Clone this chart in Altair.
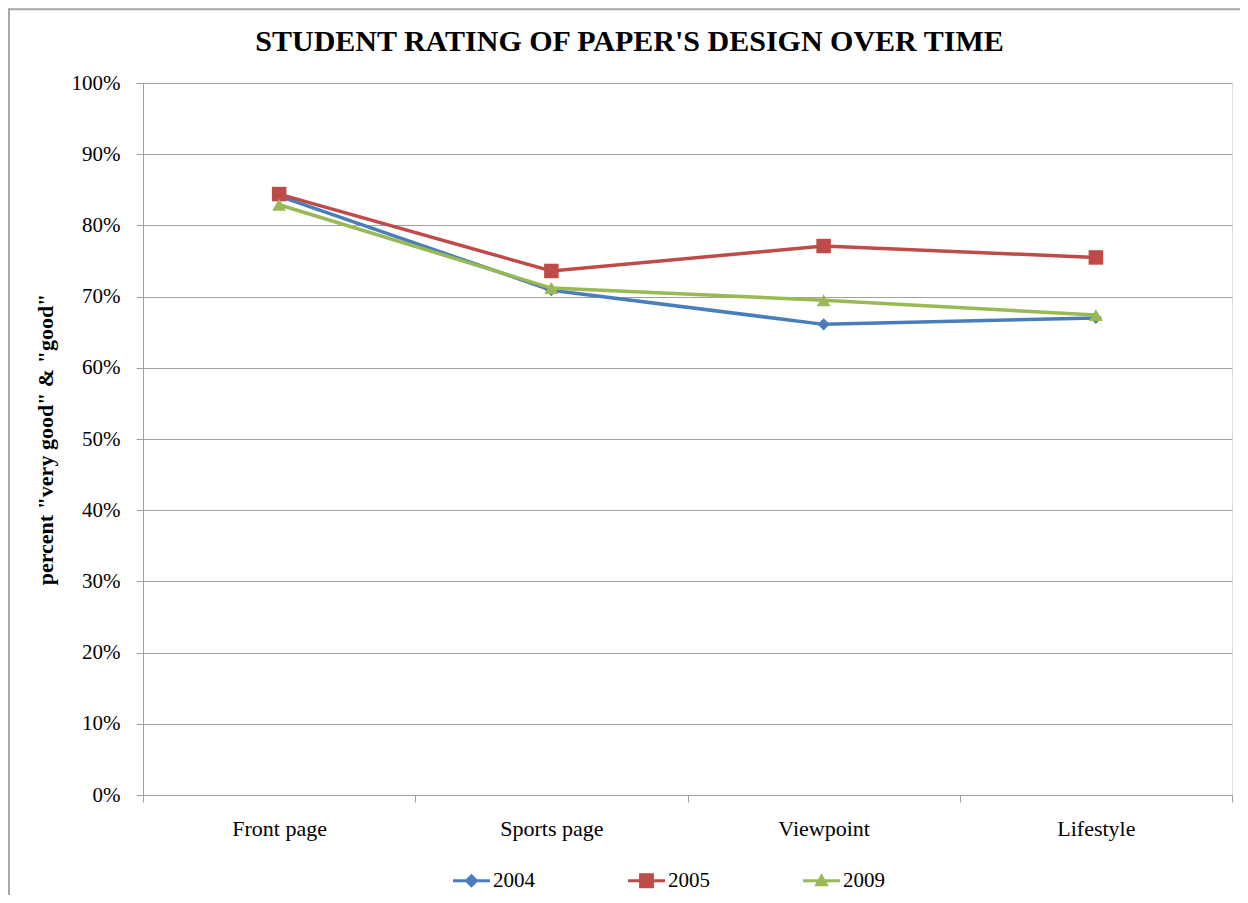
import altair as alt
import pandas as pd

categories = ["Front page", "Sports page", "Viewpoint", "Lifestyle"]
years = ["2004", "2005", "2009"]
v2004 = [0.841, 0.709, 0.661, 0.670]
v2005 = [0.844, 0.736, 0.771, 0.755]
v2009 = [0.829, 0.712, 0.695, 0.674]
y_ticks = [0.0, 0.1, 0.2, 0.3, 0.4, 0.5, 0.6, 0.7, 0.8, 0.9, 1.0]

colors = ["#4a7ebb", "#be4b48", "#98b954"]
markers = ["diamond", "square", "triangle-up"]
marker_sizes = [150, 210, 190]
legend_paths = [
    "M-1,-0.08L-0.30,-0.08L0,-0.38L0.30,-0.08L1,-0.08L1,0.08L0.30,0.08L0,0.38L-0.30,0.08L-1,0.08Z",
    "M-1,-0.08L-0.4,-0.08L-0.4,-0.4L0.4,-0.4L0.4,-0.08L1,-0.08L1,0.08L0.4,0.08L0.4,0.4L-0.4,0.4L-0.4,0.08L-1,0.08Z",
    "M-1,-0.08L-0.183,-0.08L0,-0.4L0.183,-0.08L1,-0.08L1,0.08L0.274,0.08L0.4,0.3L-0.4,0.3L-0.274,0.08L-1,0.08Z",
]

rows = []
for yr, vals in zip(years, [v2004, v2005, v2009]):
    for c, v in zip(categories, vals):
        rows.append({"category": c, "year": yr, "value": v})
df = pd.DataFrame(rows)

W, H = 1089, 712
SERIF = "Liberation Serif"
GRID = "#a0a0a0"

x_enc = alt.X(
    "category:N",
    sort=categories,
    scale=alt.Scale(paddingInner=0, paddingOuter=0),
    axis=alt.Axis(
        title=None, labelAngle=0, labelFont=SERIF, labelFontSize=22, labelColor="black",
        labelPadding=16, tickSize=7, tickColor=GRID, tickBand="extent",
        domainColor=GRID, domainWidth=1, grid=False,
    ),
)
y_enc = alt.Y(
    "value:Q",
    scale=alt.Scale(domain=[0, 1], nice=False, zero=True),
    axis=alt.Axis(
        values=y_ticks, format=".0%", labelFont=SERIF, labelFontSize=21, labelColor="black",
        labelPadding=16, tickSize=7, tickColor=GRID, domainColor=GRID,
        gridColor=GRID, gridWidth=1,
        title='percent "very good" & "good"', titleFont=SERIF, titleFontSize=22,
        titleFontWeight="bold", titleColor="black", titleAngle=270,
        titleX=-91, titleY=356, titleAlign="center", titleBaseline="alphabetic",
    ),
)

base = alt.Chart(df)
layers = []
for yr, col, mk, sz in zip(years, colors, markers, marker_sizes):
    sub = base.transform_filter(alt.datum.year == yr)
    layers.append(sub.mark_line(strokeWidth=3.5, color=col).encode(x=x_enc, y=y_enc))
    layers.append(sub.mark_point(filled=True, opacity=1, shape=mk, size=sz, color=col).encode(x=x_enc, y=y_enc))

legend = alt.Legend(
    orient="none", legendX=310, legendY=779, direction="horizontal", title=None,
    labelFont=SERIF, labelFontSize=21, labelColor="black", labelOffset=3,
    symbolSize=1369, symbolStrokeWidth=0, columnPadding=93, padding=0,
)
legend_layer = base.transform_filter("false").mark_point(filled=True, opacity=1).encode(
    x=x_enc, y=y_enc,
    color=alt.Color("year:N", scale=alt.Scale(domain=years, range=colors), legend=legend),
    shape=alt.Shape("year:N", scale=alt.Scale(domain=years, range=legend_paths), legend=legend),
)

frame = alt.Chart(alt.Data(values=[{"a": 1}])).mark_rect(
    fill="transparent", stroke="#a8a8a8", strokeWidth=2
).encode(
    x=alt.value(-134), x2=alt.value(1300), y=alt.value(-73.7), y2=alt.value(1000)
)

chart = alt.layer(frame, *layers, legend_layer).properties(
    width=W, height=H,
    title=alt.TitleParams(
        "STUDENT RATING OF PAPER'S DESIGN OVER TIME", font=SERIF, fontSize=30,
        fontWeight="bold", color="black", anchor="middle", dx=-58, offset=-73,
        baseline="alphabetic",
    ),
    autosize=alt.AutoSizeParams(type="none"),
    padding={"left": 135, "top": 75, "right": 8, "bottom": 100},
).configure_view(stroke="transparent").configure(background="white")

chart.save("out.html", embed_options={"renderer": "svg", "actions": False})
